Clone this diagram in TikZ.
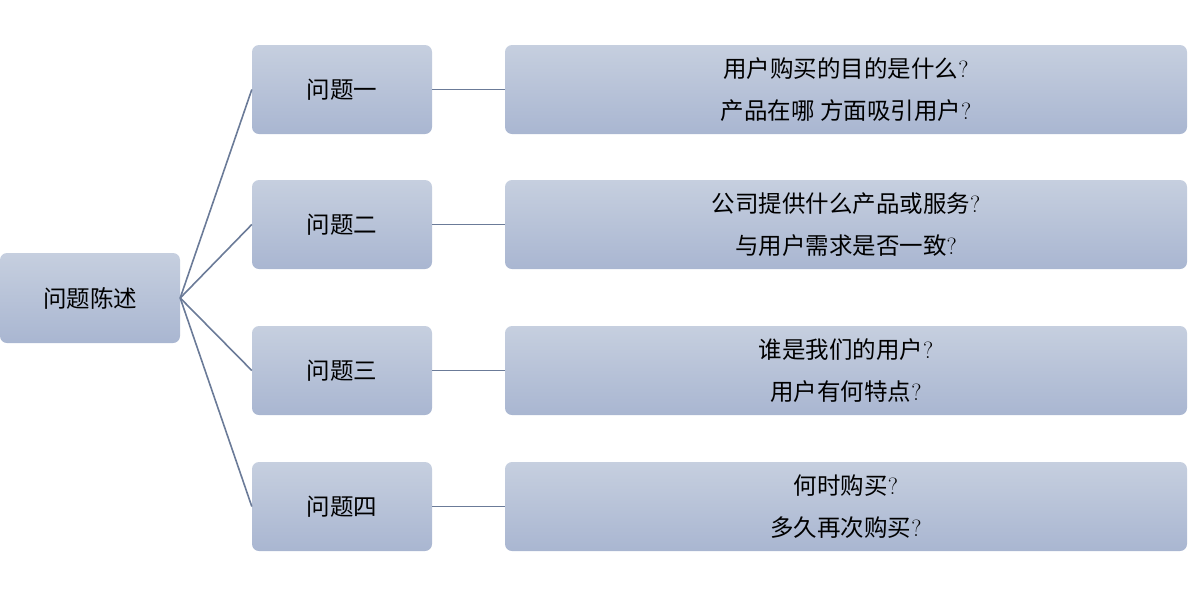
\documentclass[tikz,border=0pt]{standalone}
\usepackage{fontspec}
\newfontfamily\cjk{Noto Sans CJK SC}
\begin{document}
\begin{tikzpicture}[x=1pt,y=-1pt,
  box/.style={rounded corners=7pt, top color=boxtop, bottom color=boxbot,
    draw=none, inner sep=0pt},
  lbl/.style={font=\cjk\fontsize{23.5}{42}\selectfont, align=center, text=black},
  link/.style={draw=linkc, line width=1.6pt}]
\definecolor{boxtop}{HTML}{C6CFDF}
\definecolor{boxbot}{HTML}{A9B6D1}
\definecolor{linkc}{HTML}{6B7B98}
\useasboundingbox (0,0) rectangle (1188,598);

% root
\node[box, minimum width=180pt, minimum height=90pt] (root) at (90,298) {};
\node[lbl] at (root.center) {问题陈述};

% questions and answers
\foreach \i/\y/\q/\a/\b in {
  1/89.5/问题一/{用户购买的目的是什么}/{产品在哪 方面吸引用户},
  2/224.5/问题二/{公司提供什么产品或服务}/{与用户需求是否一致},
  3/370.5/问题三/{谁是我们的用户}/{用户有何特点},
  4/506.5/问题四/{何时购买}/{多久再次购买}}{
  \node[box, minimum width=180pt, minimum height=89pt] (q\i) at (342,\y) {};
  \node[lbl] at (q\i.center) {\q};
  \node[box, minimum width=682pt, minimum height=89pt] (a\i) at (846,\y) {};
  \node[lbl] at (a\i.center) {\a{\rmfamily ?}\\\b{\rmfamily ?}};
  \draw[link] (root.east) -- (q\i.west);
  \draw[link] (q\i.east) -- (a\i.west);
}
\end{tikzpicture}
\end{document}
